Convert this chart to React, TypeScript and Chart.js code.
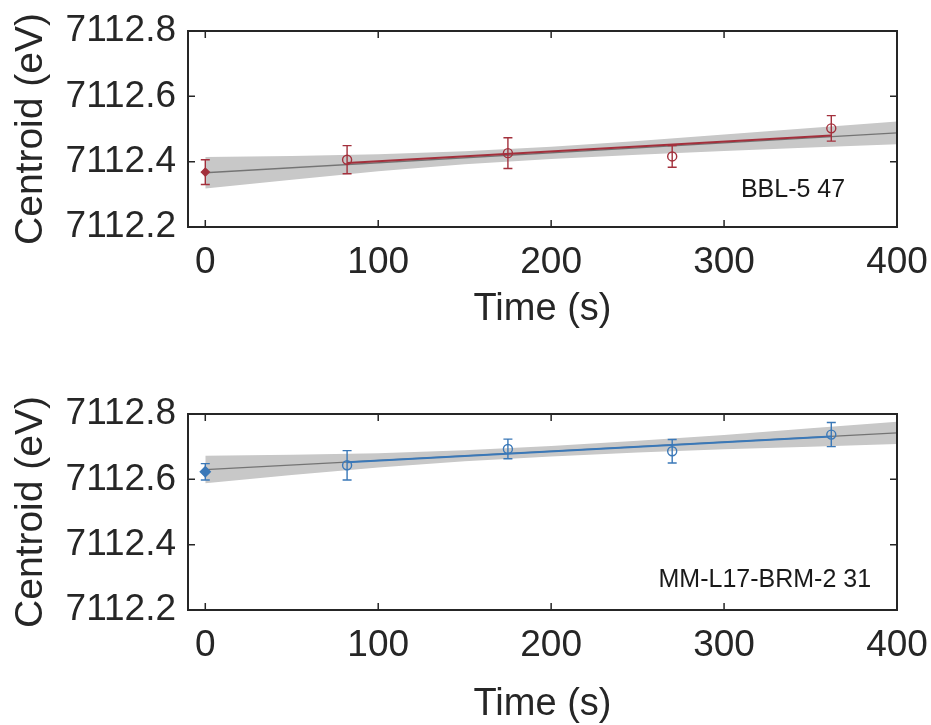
import React, { useEffect, useRef } from "react";
import { Chart, registerables } from "chart.js";

Chart.register(...registerables);

// ---- shared axis data ----
const timeTicks = [0, 100, 200, 300, 400];
const centroidTicks = [7112.2, 7112.4, 7112.6, 7112.8];
const timeMin = -10;
const timeMax = 400;
const centroidMin = 7112.2;
const centroidMax = 7112.8;

// ---- measurement times ----
const times = [0, 82, 175, 270, 362];

// ---- BBL-5 47 (top) ----
const bblCentroid = [7112.368, 7112.406, 7112.426, 7112.416, 7112.502];
const bblError = [0.038, 0.043, 0.047, 0.033, 0.039];
const bblFitTimes = [0, 400];
const bblFit = [7112.366, 7112.488];
const bblTrendTimes = [82, 362];
const bblTrend = [7112.396, 7112.48];
const bandTimes = [0, 50, 100, 150, 200, 250, 300, 350, 400];
const bblBandUpper = [7112.414, 7112.417, 7112.423, 7112.432, 7112.446, 7112.463, 7112.483, 7112.503, 7112.523];
const bblBandLower = [7112.318, 7112.345, 7112.371, 7112.392, 7112.408, 7112.421, 7112.433, 7112.443, 7112.453];

// ---- MM-L17-BRM-2 31 (bottom) ----
const mmCentroid = [7112.623, 7112.643, 7112.693, 7112.686, 7112.737];
const mmError = [0.025, 0.045, 0.03, 0.036, 0.037];
const mmFitTimes = [0, 400];
const mmFit = [7112.63, 7112.742];
const mmTrendTimes = [82, 362];
const mmTrend = [7112.652, 7112.731];
const mmBandUpper = [7112.672, 7112.675, 7112.68, 7112.689, 7112.702, 7112.718, 7112.736, 7112.756, 7112.776];
const mmBandLower = [7112.588, 7112.613, 7112.636, 7112.655, 7112.67, 7112.682, 7112.692, 7112.7, 7112.708];

const FONT = '"Liberation Sans", Arial, Helvetica, sans-serif';
const INK = "#262626";
const BAND = "#c8c8c8";
const FIT = "#747474";

const pts = (xs: number[], ys: number[]) => xs.map((x, i) => ({ x, y: ys[i] }));

type Spec = {
  label: string;
  labelX: number;
  labelY: number;
  color: string;
  values: number[];
  errors: number[];
  fitTimes: number[];
  fit: number[];
  trendTimes: number[];
  trend: number[];
  bandUpper: number[];
  bandLower: number[];
  firstRadius: number;
  height: number;
  areaTop: number;
  areaBottom: number;
  titlePad: number;
};

function makePlugin(spec: Spec) {
  return {
    id: "panelDecor",
    afterDatasetsDraw(chart: any) {
      const { ctx, scales } = chart;
      const x = scales.x;
      const y = scales.y;
      ctx.save();
      ctx.strokeStyle = spec.color;
      ctx.lineWidth = 1.4;
      times.forEach((t, i) => {
        const px = x.getPixelForValue(t);
        const hi = y.getPixelForValue(spec.values[i] + spec.errors[i]);
        const lo = y.getPixelForValue(spec.values[i] - spec.errors[i]);
        ctx.beginPath();
        ctx.moveTo(px, hi);
        ctx.lineTo(px, lo);
        ctx.moveTo(px - 4.5, hi);
        ctx.lineTo(px + 4.5, hi);
        ctx.moveTo(px - 4.5, lo);
        ctx.lineTo(px + 4.5, lo);
        ctx.stroke();
      });
      ctx.restore();
    },
    afterDraw(chart: any) {
      const { ctx, chartArea: a, scales } = chart;
      const x = scales.x;
      const y = scales.y;
      ctx.save();
      ctx.strokeStyle = INK;
      ctx.lineWidth = 2;
      ctx.strokeRect(a.left, a.top, a.right - a.left, a.bottom - a.top);
      const tl = 7;
      ctx.beginPath();
      x.ticks.forEach((t: any) => {
        const px = x.getPixelForValue(t.value);
        ctx.moveTo(px, a.bottom);
        ctx.lineTo(px, a.bottom - tl);
        ctx.moveTo(px, a.top);
        ctx.lineTo(px, a.top + tl);
      });
      y.ticks.forEach((t: any) => {
        const py = y.getPixelForValue(t.value);
        ctx.moveTo(a.left, py);
        ctx.lineTo(a.left + tl, py);
        ctx.moveTo(a.right, py);
        ctx.lineTo(a.right - tl, py);
      });
      ctx.lineWidth = 1.5;
      ctx.stroke();
      ctx.fillStyle = "#1a1a1a";
      ctx.font = `25px ${FONT}`;
      ctx.textAlign = "right";
      ctx.textBaseline = "middle";
      ctx.fillText(spec.label, x.getPixelForValue(spec.labelX), y.getPixelForValue(spec.labelY));
      ctx.restore();
    },
  };
}

function Panel({ spec, top }: { spec: Spec; top: number }) {
  const ref = useRef<HTMLCanvasElement | null>(null);
  useEffect(() => {
    if (!ref.current) return;
    const xHeight = spec.height - spec.areaBottom;
    const chart = new Chart(ref.current, {
      type: "scatter",
      data: {
        datasets: [
          {
            data: pts(times, spec.values),
            showLine: false,
            pointStyle: ["rectRot", "circle", "circle", "circle", "circle"],
            pointRadius: [spec.firstRadius, 4.5, 4.5, 4.5, 4.5],
            pointBackgroundColor: [spec.color, "rgba(0,0,0,0)", "rgba(0,0,0,0)", "rgba(0,0,0,0)", "rgba(0,0,0,0)"],
            pointBorderColor: spec.color,
            pointBorderWidth: 1.4,
          },
          {
            data: pts(spec.trendTimes, spec.trend),
            showLine: true,
            borderColor: spec.color,
            borderWidth: 2,
            pointRadius: 0,
          },
          {
            data: pts(spec.fitTimes, spec.fit),
            showLine: true,
            borderColor: FIT,
            borderWidth: 1.3,
            pointRadius: 0,
          },
          {
            data: pts(bandTimes, spec.bandUpper),
            showLine: true,
            borderColor: "rgba(0,0,0,0)",
            borderWidth: 0,
            pointRadius: 0,
            fill: "+1",
            backgroundColor: BAND,
          },
          {
            data: pts(bandTimes, spec.bandLower),
            showLine: true,
            borderColor: "rgba(0,0,0,0)",
            borderWidth: 0,
            pointRadius: 0,
            fill: false,
          },
        ] as any,
      },
      options: {
        animation: false,
        responsive: false,
        devicePixelRatio: 1,
        events: [],
        layout: { padding: { left: 0, right: 931 - 897, top: spec.areaTop, bottom: 0 } },
        plugins: { legend: { display: false }, tooltip: { enabled: false } },
        scales: {
          x: {
            type: "linear",
            min: timeMin,
            max: timeMax,
            afterBuildTicks: (s: any) => {
              s.ticks = timeTicks.map((v) => ({ value: v }));
            },
            afterFit: (s: any) => {
              s.height = xHeight;
              s.paddingLeft = 0;
              s.paddingRight = 0;
            },
            grid: { display: false, drawTicks: false },
            border: { display: false },
            ticks: {
              autoSkip: false,
              maxRotation: 0,
              padding: 14,
              color: INK,
              font: { family: FONT, size: 37 },
              callback: (v: any) => String(v),
            },
            title: {
              display: true,
              text: "Time (s)",
              color: INK,
              font: { family: FONT, size: 38, lineHeight: 1 },
              padding: { top: 0, bottom: spec.titlePad },
            },
          },
          y: {
            type: "linear",
            min: centroidMin,
            max: centroidMax,
            afterBuildTicks: (s: any) => {
              s.ticks = centroidTicks.map((v) => ({ value: v }));
            },
            afterFit: (s: any) => {
              s.width = 188;
              s.paddingTop = 0;
              s.paddingBottom = 0;
            },
            grid: { display: false, drawTicks: false },
            border: { display: false },
            ticks: {
              autoSkip: false,
              padding: 12,
              color: INK,
              font: { family: FONT, size: 37 },
              callback: (v: any) => Number(v).toFixed(1),
            },
            title: {
              display: true,
              text: "Centroid (eV)",
              color: INK,
              font: { family: FONT, size: 39, lineHeight: 1 },
              padding: { top: 12, bottom: 0 },
            },
          },
        },
      } as any,
      plugins: [makePlugin(spec)],
    });
    return () => chart.destroy();
  }, [spec]);
  return (
    <div style={{ position: "absolute", left: 0, top, width: 931, height: spec.height }}>
      <canvas ref={ref} width={931} height={spec.height} style={{ display: "block" }} />
    </div>
  );
}

const topSpec: Spec = {
  label: "BBL-5 47",
  labelX: 370,
  labelY: 7112.313,
  color: "#a3303c",
  values: bblCentroid,
  errors: bblError,
  fitTimes: bblFitTimes,
  fit: bblFit,
  trendTimes: bblTrendTimes,
  trend: bblTrend,
  bandUpper: bblBandUpper,
  bandLower: bblBandLower,
  firstRadius: 4,
  height: 370,
  areaTop: 31,
  areaBottom: 227,
  titlePad: 41,
};

const bottomSpec: Spec = {
  label: "MM-L17-BRM-2 31",
  labelX: 385,
  labelY: 7112.29,
  color: "#3a78b8",
  values: mmCentroid,
  errors: mmError,
  fitTimes: mmFitTimes,
  fit: mmFit,
  trendTimes: mmTrendTimes,
  trend: mmTrend,
  bandUpper: mmBandUpper,
  bandLower: mmBandLower,
  firstRadius: 5,
  height: 345,
  areaTop: 34,
  areaBottom: 230,
  titlePad: 1,
};

export default function App() {
  return (
    <div style={{ position: "fixed", left: 0, top: 0, width: 931, height: 725, background: "#ffffff", overflow: "hidden" }}>
      <Panel spec={topSpec} top={0} />
      <Panel spec={bottomSpec} top={380} />
    </div>
  );
}
